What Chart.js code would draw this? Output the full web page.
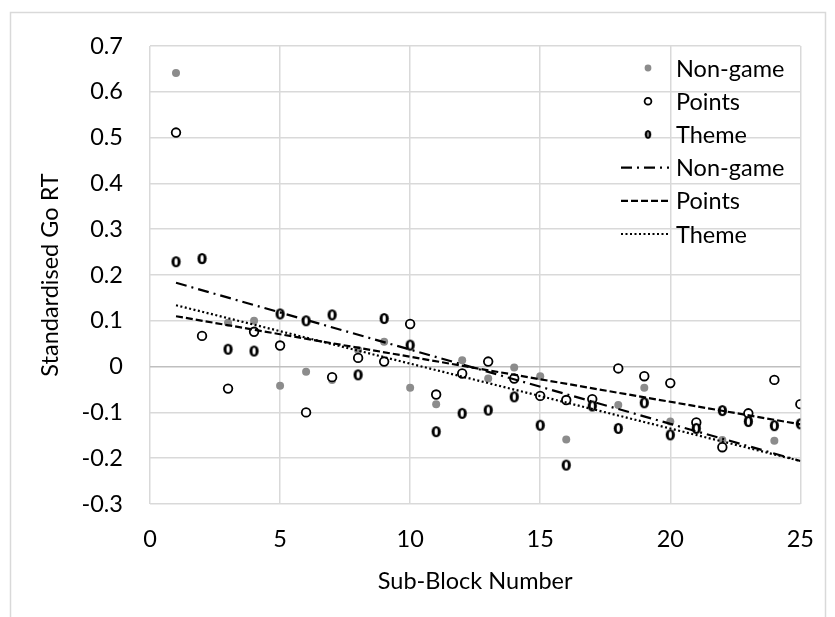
<!DOCTYPE html>
<html>
<head>
<meta charset="utf-8">
<script src="https://cdn.jsdelivr.net/npm/chart.js@4.4.1/dist/chart.umd.min.js"></script>
<style>
  html, body { margin: 0; padding: 0; background: #fff; }
  #wrap { width: 835px; height: 617px; }
</style>
</head>
<body>
<div id="wrap"><canvas id="chart" width="835" height="617"></canvas></div>
<script>
"use strict";

// Sub-bloques (eje X)
const subBloques = [1, 2, 3, 4, 5, 6, 7, 8, 9, 10, 11, 12, 13,
  14, 15, 16, 17, 18, 19, 20, 21, 22, 23, 24, 25];

// Tiempo de respuesta estandarizado por grupo
const nonGame = [0.641, 0.232, 0.096, 0.100, -0.042, -0.011, -0.029, 0.036, 0.054, -0.046,
  -0.082, 0.014, -0.026, -0.002, -0.021, -0.159, -0.085, -0.084, -0.046, -0.120,
  -0.130, -0.160, -0.115, -0.162, -0.125];
const points = [0.511, 0.067, -0.048, 0.076, 0.046, -0.100, -0.023, 0.019, 0.011, 0.093,
  -0.061, -0.015, 0.011, -0.026, -0.064, -0.073, -0.071, -0.004, -0.021, -0.036,
  -0.122, -0.176, -0.102, -0.029, -0.082];
const theme = [0.229, 0.236, 0.038, 0.034, 0.115, 0.100, 0.113, -0.018, 0.105, 0.047,
  -0.142, -0.102, -0.095, -0.066, -0.128, -0.215, -0.086, -0.135, -0.079, -0.149,
  -0.135, -0.096, -0.120, -0.129, -0.125];

// Líneas de tendencia: valor en el primer y en el último sub-bloque
const tendenciaX = [1, 25];
const tendNonGame = [0.183, -0.206];
const tendPoints = [0.110, -0.126];
const tendTheme = [0.134, -0.206];

// Marcas de los ejes
const ticksX = [0, 5, 10, 15, 20, 25];
const ticksY = [-0.3, -0.2, -0.1, 0, 0.1, 0.2, 0.3, 0.4, 0.5, 0.6, 0.7];

const fuente = { family: "Lato, 'Open Sans', sans-serif", size: 23.5 };
const gris = "#8c8c8c";

// Marcador del grupo Theme: un "0" grueso (elipse negra con hueco blanco)
function marcadorTheme() {
  const c = document.createElement("canvas");
  c.width = 11; c.height = 13;
  const g = c.getContext("2d");
  g.fillStyle = "#000";
  g.beginPath();
  g.ellipse(5.5, 6.5, 4.6, 5.6, 0, 0, Math.PI * 2);
  g.fill();
  g.fillStyle = "#fff";
  g.beginPath();
  g.ellipse(5.5, 6.5, 1.6, 3.6, 0, 0, Math.PI * 2);
  g.fill();
  return c;
}
const imgTheme = marcadorTheme();

const pares = (xs, ys) => xs.map((x, i) => ({ x: x, y: ys[i] }));

// Marco exterior y fondo blanco
const marco = {
  id: "marco",
  beforeDraw(chart) {
    const ctx = chart.ctx;
    ctx.save();
    ctx.fillStyle = "#fff";
    ctx.fillRect(0, 0, chart.width, chart.height);
    ctx.strokeStyle = "#d9d9d9";
    ctx.lineWidth = 1.5;
    ctx.strokeRect(10.5, 12.5, 815, 620);
    ctx.restore();
  }
};

// Leyenda dentro del área del gráfico
const leyenda = {
  id: "leyenda",
  afterDraw(chart) {
    const ctx = chart.ctx;
    const orden = [3, 4, 5, 0, 1, 2];
    const xMarca = 648, xTexto = 676, y0 = 68, paso = 33.2;
    ctx.save();
    ctx.font = fuente.size + "px " + fuente.family;
    ctx.textBaseline = "middle";
    orden.forEach((idx, fila) => {
      const ds = chart.data.datasets[idx];
      const y = y0 + fila * paso;
      if (ds.type === "line") {
        ctx.strokeStyle = "#000";
        ctx.lineWidth = ds.borderWidth;
        ctx.setLineDash(ds.borderDash);
        ctx.beginPath();
        ctx.moveTo(621, y);
        ctx.lineTo(669, y);
        ctx.stroke();
        ctx.setLineDash([]);
      } else if (ds.pointStyle === imgTheme) {
        ctx.drawImage(imgTheme, xMarca - 4, y - 5, 8, 10);
        ctx.fillStyle = "#000";
        ctx.fillRect(xMarca - 0.5, y - 4, 1, 8);
      } else {
        ctx.beginPath();
        ctx.arc(xMarca, y, 3.4, 0, Math.PI * 2);
        ctx.fillStyle = ds.pointBackgroundColor;
        ctx.fill();
        if (ds.pointBorderWidth > 0) {
          ctx.lineWidth = ds.pointBorderWidth;
          ctx.strokeStyle = ds.pointBorderColor;
          ctx.stroke();
        }
      }
      ctx.fillStyle = "#000";
      ctx.fillText(ds.label, xTexto, y + 1);
    });
    ctx.restore();
  }
};

const formato = v => String(Math.round(v * 10) / 10);

new Chart(document.getElementById("chart"), {
  type: "scatter",
  data: {
    datasets: [
      {
        type: "line", label: "Non-game", data: pares(tendenciaX, tendNonGame),
        borderColor: "#000", borderWidth: 2.2, borderDash: [11, 5, 2, 5],
        pointRadius: 0, fill: false, order: 0
      },
      {
        type: "line", label: "Points", data: pares(tendenciaX, tendPoints),
        borderColor: "#000", borderWidth: 2.2, borderDash: [7, 3],
        pointRadius: 0, fill: false, order: 0
      },
      {
        type: "line", label: "Theme", data: pares(tendenciaX, tendTheme),
        borderColor: "#000", borderWidth: 2.2, borderDash: [2, 2.5],
        pointRadius: 0, fill: false, order: 0
      },
      {
        label: "Non-game", data: pares(subBloques, nonGame),
        pointStyle: "circle", pointRadius: 4,
        pointBackgroundColor: gris, pointBorderColor: gris, pointBorderWidth: 0,
        order: 3
      },
      {
        label: "Points", data: pares(subBloques, points),
        pointStyle: "circle", pointRadius: 4.3,
        pointBackgroundColor: "#fff", pointBorderColor: "#000", pointBorderWidth: 1.8,
        order: 2
      },
      {
        label: "Theme", data: pares(subBloques, theme),
        pointStyle: imgTheme, pointRadius: 5,
        order: 1
      }
    ]
  },
  options: {
    responsive: false,
    animation: false,
    layout: { padding: { left: 0, top: 46, right: 27, bottom: 0 } },
    plugins: {
      legend: { display: false },
      tooltip: { enabled: false }
    },
    scales: {
      x: {
        type: "linear",
        min: 0, max: 25,
        afterBuildTicks: s => { s.ticks = ticksX.map(v => ({ value: v })); },
        afterFit: s => { s.height = 113; },
        ticks: { font: fuente, color: "#000", padding: 21, maxRotation: 0 },
        grid: { color: "#d9d9d9", lineWidth: 1.5, drawTicks: false },
        border: { display: false },
        title: {
          display: true, text: "Sub-Block Number", font: fuente, color: "#000",
          padding: { top: 0, bottom: 21 }
        }
      },
      y: {
        type: "linear",
        min: -0.3, max: 0.7,
        afterBuildTicks: s => { s.ticks = ticksY.map(v => ({ value: v })); },
        afterFit: s => { s.width = 150; },
        ticks: { font: fuente, color: "#000", padding: 27, callback: formato },
        grid: {
          color: c => (c.tick && c.tick.value === 0) ? "#bfbfbf" : "#d9d9d9",
          lineWidth: 1.5, drawTicks: false
        },
        border: { display: false },
        title: {
          display: true, text: "Standardised Go RT", font: fuente, color: "#000",
          padding: { top: 36, bottom: 0 }
        }
      }
    }
  },
  plugins: [marco, leyenda]
});
</script>
</body>
</html>
